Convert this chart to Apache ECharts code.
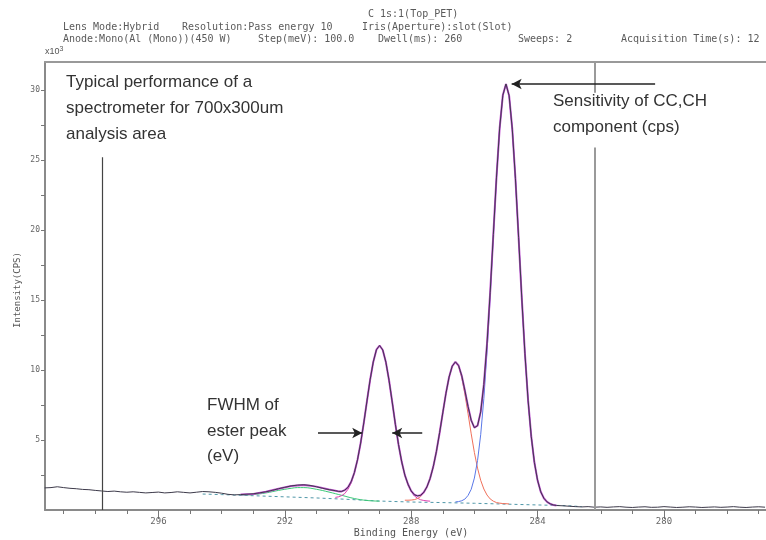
<!DOCTYPE html>
<html><head><meta charset="utf-8">
<script src="https://cdn.jsdelivr.net/npm/echarts@6/dist/echarts.min.js"></script>
<style>html,body{margin:0;padding:0;background:#fff}#c{width:766px;height:540px}</style>
</head><body><div id="c"></div>
<script>
// ---- axis ticks / labels ----
const xLabelValues = [296, 292, 288, 284, 280];
const xMinorTicks = [277,278,279,280,281,282,283,284,285,286,287,288,289,290,291,292,293,294,295,296,297,298,299];
const yLabelValues = [5, 10, 15, 20, 25, 30];
const yTicks = [2.5,5,7.5,10,12.5,15,17.5,20,22.5,25,27.5,30];

// ---- measured spectrum (x10^3 CPS) ----
const rawLeftEnergy = [299.6,299.4,299.2,299.0,298.8,298.6,298.4,298.2,298.0,297.8,297.6,297.4,297.2,297.0,296.8,296.6,296.4,296.2,296.0,295.8,295.6,295.4,295.2,295.0,294.8,294.6,294.4,294.2,294.0,293.8,293.6,293.4,293.2,293.0,292.8,292.6,292.4,292.2,292.0,291.8,291.6,291.4,291.2,291.0,290.8,290.6];
const rawLeftCounts = [1.58,1.60,1.66,1.60,1.55,1.52,1.47,1.45,1.40,1.36,1.32,1.35,1.30,1.27,1.30,1.26,1.22,1.25,1.28,1.22,1.25,1.30,1.26,1.22,1.27,1.32,1.30,1.26,1.20,1.12,1.08,1.10,1.13,1.16,1.22,1.30,1.40,1.52,1.62,1.72,1.78,1.80,1.76,1.66,1.55,1.45];
const fitEnergy = [290.4,290.3,290.2,290.1,290.0,289.9,289.8,289.7,289.6,289.5,289.4,289.3,289.2,289.1,289.0,288.9,288.8,288.7,288.6,288.5,288.4,288.3,288.2,288.1,288.0,287.9,287.8,287.7,287.6,287.5,287.4,287.3,287.2,287.1,287.0,286.9,286.8,286.7,286.6,286.5,286.4,286.3,286.2,286.1,286.0,285.9,285.8,285.7,285.6,285.5,285.4,285.3,285.2,285.1,285.0,284.9,284.8,284.7,284.6,284.5,284.4,284.3,284.2,284.1,284.0,283.9,283.8,283.7,283.6,283.5,283.4];
const envelopeCounts = [1.38,1.33,1.33,1.42,1.62,2.02,2.66,3.58,4.78,6.22,7.78,9.30,10.58,11.45,11.75,11.43,10.55,9.25,7.71,6.12,4.66,3.44,2.49,1.84,1.36,1.09,1.01,1.05,1.27,1.66,2.26,3.10,4.20,5.52,6.94,8.33,9.50,10.28,10.58,10.32,9.59,8.53,7.39,6.40,5.88,6.02,7.01,8.97,11.87,15.55,19.68,23.78,27.28,29.62,30.43,29.59,27.20,23.66,19.45,15.15,11.18,7.84,5.26,3.39,2.12,1.30,0.84,0.58,0.44,0.36,0.32];
const rawRightEnergy = [283.2,283.0,282.8,282.6,282.4,282.2,282.0,281.8,281.6,281.4,281.2,281.0,280.8,280.6,280.4,280.2,280.0,279.8,279.6,279.4,279.2,279.0,278.8,278.6,278.4,278.2,278.0,277.8,277.6,277.4,277.2,277.0,276.8];
const rawRightCounts = [0.30,0.27,0.24,0.22,0.24,0.20,0.22,0.19,0.22,0.24,0.20,0.18,0.21,0.23,0.19,0.20,0.24,0.21,0.18,0.20,0.23,0.21,0.18,0.20,0.22,0.19,0.21,0.24,0.20,0.18,0.21,0.23,0.20];

// ---- fit envelope (satellite region) ----
const envLeftEnergy = [293.4,293.0,292.6,292.2,291.8,291.4,291.0,290.6];
const envLeftCounts = [1.10,1.15,1.30,1.52,1.72,1.79,1.67,1.46];

// ---- fitted components ----
const esterCounts = [0.90,0.94,1.03,1.18,1.48,1.93,2.60,3.54,4.75,6.20,7.77,9.30,10.58,11.45,11.75,11.43,10.55,9.25,7.71,6.12,4.66,3.43,2.47,1.79,1.32,1.01,0.84,0.73,0.68,0.65,0.63];
const coCounts = [0.70,0.70,0.71,0.74,0.82,0.96,1.23,1.64,2.25,3.10,4.20,5.52,6.94,8.33,9.50,10.28,10.56,10.27,9.47,8.28,6.88,5.44,4.11,2.99,2.12,1.50,1.07,0.79,0.63,0.53,0.49,0.46,0.45,0.43];
const ccCounts = [0.58,0.60,0.66,0.78,1.04,1.48,2.28,3.53,5.38,7.96,11.28,15.23,19.51,23.70,27.24,29.60,30.43,29.58,27.20,23.66,19.45,15.15,11.18,7.84,5.26,3.39,2.12,1.30,0.84,0.58,0.44,0.36,0.32];
const satEnergy = [293.4,293.0,292.6,292.2,291.8,291.6,291.4,291.0,290.6,290.2,289.8,289.4,289.0];
const satCounts = [1.06,1.10,1.22,1.40,1.55,1.60,1.60,1.48,1.28,1.05,0.82,0.68,0.63];
const bgEnergy = [294.6,294.0,293.0,292.0,291.0,290.0,289.0,288.0,287.0,286.0,285.0,284.0,283.4,283.0,282.6];
const bgCounts = [1.14,1.10,1.02,0.94,0.86,0.76,0.64,0.57,0.53,0.48,0.42,0.36,0.33,0.30,0.24];

const esterEnergy = fitEnergy.slice(0, 31);
const coEnergy = fitEnergy.slice(22, 56);
const ccEnergy = fitEnergy.slice(38);

const pairs = (xs, ys) => xs.map((x, i) => [x, ys[i]]);
const rawData = pairs(rawLeftEnergy, rawLeftCounts).concat(pairs(fitEnergy, envelopeCounts), pairs(rawRightEnergy, rawRightCounts));
const envData = pairs(envLeftEnergy, envLeftCounts).concat(pairs(fitEnergy, envelopeCounts));

const XMIN = 276.77, XMAX = 299.59;
const hdr = {fontSize: 10, fill: '#5a5a5a', fontFamily: 'DejaVu Sans Mono', textVerticalAlign: 'middle'};
const ann = {fontSize: 17, fill: '#333', fontFamily: 'Liberation Sans', textVerticalAlign: 'middle'};
function tx(x, y, t, st) { return {type: 'text', x: x, y: y, z: 100, style: Object.assign({text: t}, st)}; }

const chart = echarts.init(document.getElementById('c'));
chart.setOption({
  animation: false,
  backgroundColor: '#fff',
  grid: {left: 45, top: 62, right: 0, bottom: 30},
  xAxis: [
    {type: 'value', min: XMIN, max: XMAX, inverse: true, position: 'bottom',
     axisLine: {show: true, lineStyle: {color: '#8a8a8a', width: 2}},
     axisTick: {show: true, length: 4, customValues: xMinorTicks, lineStyle: {color: '#777'}},
     axisLabel: {customValues: xLabelValues, color: '#666', fontSize: 9, margin: 7, fontFamily: 'DejaVu Sans Mono'},
     splitLine: {show: false}},
    {type: 'value', min: XMIN, max: XMAX, inverse: true, position: 'top',
     axisLine: {show: true, lineStyle: {color: '#999', width: 2}},
     axisTick: {show: false}, axisLabel: {show: false}, splitLine: {show: false}},
    {type: 'value', min: XMIN, max: XMAX, inverse: true, position: 'bottom',
     axisLine: {show: false},
     axisTick: {show: true, length: 9, customValues: xLabelValues, lineStyle: {color: '#777'}},
     axisLabel: {show: false}, splitLine: {show: false}}
  ],
  yAxis: {type: 'value', min: 0, max: 32,
    axisLine: {show: true, lineStyle: {color: '#8a8a8a', width: 2}},
    axisTick: {show: true, length: 4, customValues: yTicks, lineStyle: {color: '#777'}},
    axisLabel: {customValues: yLabelValues, color: '#666', fontSize: 8, margin: 5, fontFamily: 'DejaVu Sans Mono'},
    splitLine: {show: false}},
  series: [
    {type: 'line', data: pairs(bgEnergy, bgCounts), showSymbol: false, lineStyle: {color: '#4f97a8', width: 1, type: [3, 3]}},
    {type: 'line', data: pairs(satEnergy, satCounts), showSymbol: false, smooth: 0.4, lineStyle: {color: '#3cc878', width: 1}},
    {type: 'line', data: pairs(esterEnergy, esterCounts), showSymbol: false, lineStyle: {color: '#e040b0', width: 1}},
    {type: 'line', data: pairs(coEnergy, coCounts), showSymbol: false, lineStyle: {color: '#f0705a', width: 1}},
    {type: 'line', data: pairs(ccEnergy, ccCounts), showSymbol: false, lineStyle: {color: '#5a78e8', width: 1}},
    {type: 'line', data: envData, showSymbol: false, lineStyle: {color: '#c050d0', width: 2}},
    {type: 'line', data: rawData, showSymbol: false, lineStyle: {color: '#3d3a4a', width: 1},
     markLine: {silent: true, symbol: ['none', 'none'], label: {show: false}, animation: false,
       data: [
         [{coord: [297.78, 25.2], lineStyle: {color: '#444', width: 1.2, type: 'solid'}}, {coord: [297.78, 0]}],
         [{coord: [282.18, 32], lineStyle: {color: '#9a9a9a', width: 2, type: 'solid'}}, {coord: [282.18, 29.8]}],
         [{coord: [282.18, 25.9], lineStyle: {color: '#9a9a9a', width: 2, type: 'solid'}}, {coord: [282.18, 0]}],
         [{coord: [280.28, 30.43], lineStyle: {color: '#222', width: 1.5, type: 'solid'}}, {coord: [284.82, 30.43], symbol: 'arrow', symbolSize: [8, 10]}],
         [{coord: [290.95, 5.5], lineStyle: {color: '#222', width: 1.5, type: 'solid'}}, {coord: [289.55, 5.5], symbol: 'arrow', symbolSize: [8, 10]}],
         [{coord: [287.65, 5.5], lineStyle: {color: '#222', width: 1.5, type: 'solid'}}, {coord: [288.6, 5.5], symbol: 'arrow', symbolSize: [8, 10]}]
       ]}}
  ],
  graphic: [
    tx(368, 14, 'C 1s:1(Top_PET)', hdr),
    tx(63, 27, 'Lens Mode:Hybrid', hdr),
    tx(182, 27, 'Resolution:Pass energy 10', hdr),
    tx(362, 27, 'Iris(Aperture):slot(Slot)', hdr),
    tx(63, 39, 'Anode:Mono(Al (Mono))(450 W)', hdr),
    tx(258, 39, 'Step(meV): 100.0', hdr),
    tx(378, 39, 'Dwell(ms): 260', hdr),
    tx(518, 39, 'Sweeps: 2', hdr),
    tx(621, 39, 'Acquisition Time(s): 12', hdr),
    {type: 'text', x: 45, y: 52, z: 100, style: {text: '{a|x10}{b|3}', fontFamily: 'DejaVu Sans Mono', textVerticalAlign: 'middle',
      rich: {a: {fontSize: 9, fill: '#555'}, b: {fontSize: 7, fill: '#555', verticalAlign: 'top', padding: [0, 0, 6, 0]}}}},
    tx(66, 82, 'Typical performance of a', ann),
    tx(66, 108, 'spectrometer for 700x300um', ann),
    tx(66, 134, 'analysis area', ann),
    tx(553, 101, 'Sensitivity of CC,CH', ann),
    tx(553, 127, 'component (cps)', ann),
    tx(207, 405, 'FWHM of', ann),
    tx(207, 431, 'ester peak', ann),
    tx(207, 456, '(eV)', ann),
    {type: 'text', x: 411, y: 533, z: 100, style: {text: 'Binding Energy (eV)', fontSize: 10, fill: '#555', fontFamily: 'DejaVu Sans Mono', textAlign: 'center', textVerticalAlign: 'middle'}},
    {type: 'text', x: 18, y: 290, rotation: Math.PI / 2, z: 100, style: {text: 'Intensity(CPS)', fontSize: 9, fill: '#555', fontFamily: 'DejaVu Sans Mono', textAlign: 'center', textVerticalAlign: 'middle'}}
  ]
});
</script></body></html>
